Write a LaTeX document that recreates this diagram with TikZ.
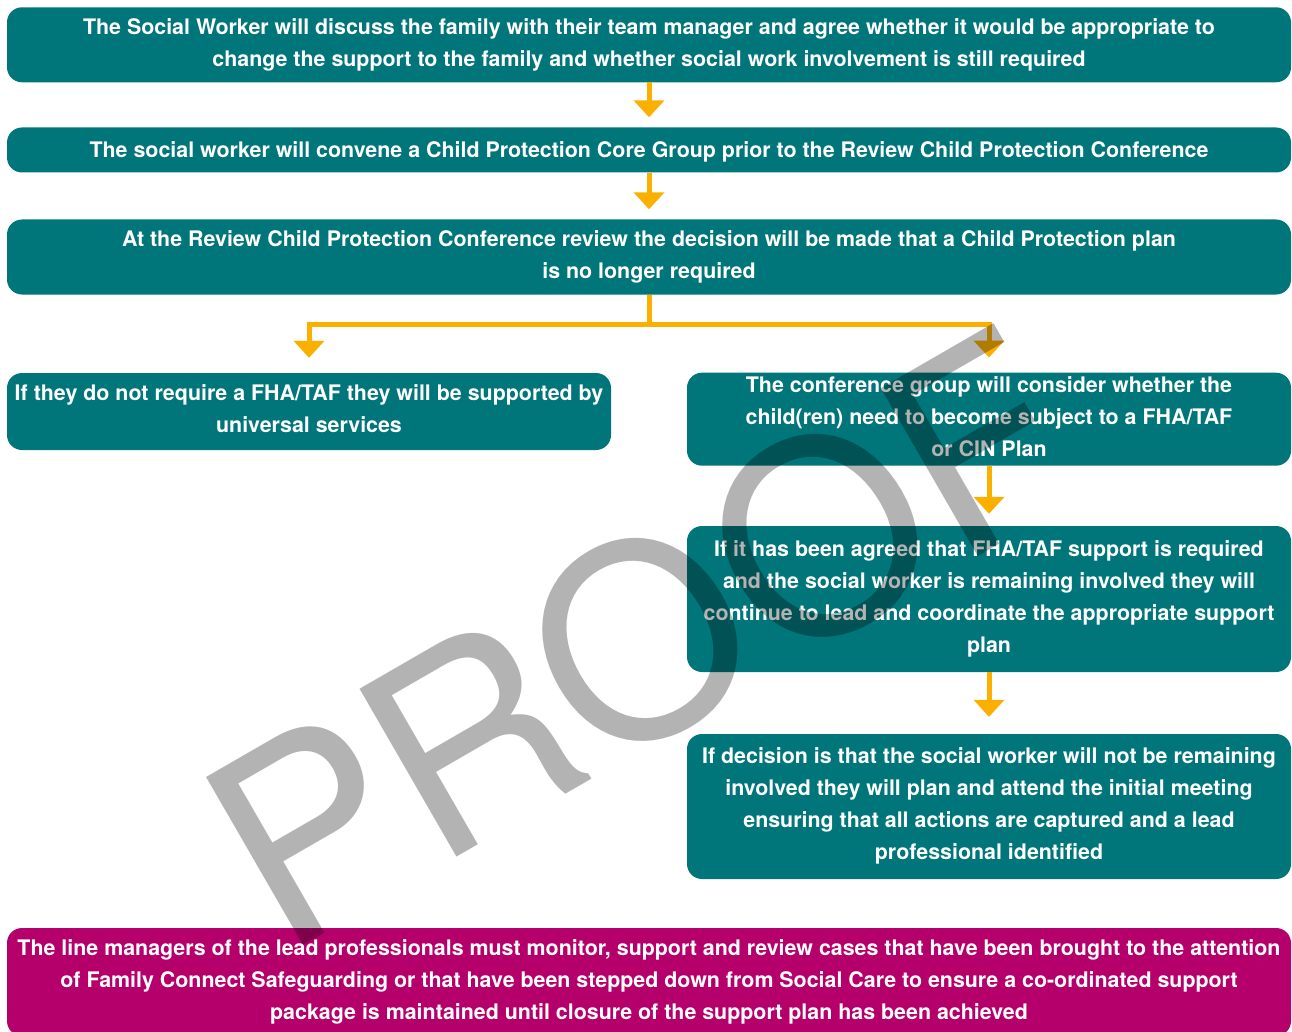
\documentclass[tikz,border=0pt]{standalone}
\usepackage{fontspec}
\setmainfont{TeX Gyre Heros}
\usetikzlibrary{arrows.meta}
\definecolor{teal}{HTML}{00767A}
\definecolor{plum}{HTML}{B5006B}
\definecolor{amber}{HTML}{FBB000}
\definecolor{wmgray}{HTML}{B3B3B3}
\tikzset{
  stage/.style={draw=none, fill=teal, rounded corners=15pt, text=white,
    font=\bfseries\fontsize{21.4}{32}\selectfont, align=center, inner sep=0pt,
    % fixed first-line height and last-line depth keep the baselines evenly placed
    execute at begin node={\rule{0pt}{20.6pt}},
    execute at end node={\rule[-5pt]{0pt}{0pt}}},
  closing/.style={stage, fill=plum},
  flow/.style={draw=amber, line width=5pt},
  flowarrow/.style={flow, -{Triangle[width=30pt,length=17pt]}, shorten >=12pt},
}
\begin{document}
\begin{tikzpicture}[x=1pt, y=-1pt]
\useasboundingbox (0,0) rectangle (1292,1032);

\node[stage, minimum width=1284pt, minimum height=75pt] (b1) at (649,44.8)
  {The Social Worker will discuss the family with their team manager and agree whether it would be appropriate to\\
   change the support to the family and whether social work involvement is still required};
\node[stage, minimum width=1284pt, minimum height=45pt] (b2) at (649,150)
  {The social worker will convene a Child Protection Core Group prior to the Review Child Protection Conference};
\node[stage, minimum width=1284pt, minimum height=75pt] (b3) at (649,257)
  {At the Review Child Protection Conference review the decision will be made that a Child Protection plan\\
   is no longer required};
\node[stage, minimum width=604pt, minimum height=77pt] (b4) at (309,411.5)
  {If they do not require a FHA/TAF they will be supported by\\ universal services};
\node[stage, minimum width=604pt, minimum height=93pt] (b5) at (989,419.2)
  {The conference group will consider whether the\\
   child(ren) need to become subject to a FHA/TAF\\ or CIN Plan};
\node[stage, minimum width=604pt, minimum height=146pt] (b6) at (989,599)
  {If it has been agreed that FHA/TAF support is required\\
   and the social worker is remaining involved they will\\
   continue to lead and coordinate the appropriate support\\ plan};
\node[stage, minimum width=604pt, minimum height=145pt] (b7) at (989,806.5)
  {If decision is that the social worker will not be remaining\\
   involved they will plan and attend the initial meeting\\
   ensuring that all actions are captured and a lead\\ professional identified};
\node[closing, minimum width=1284pt, minimum height=108pt] (b8) at (649,982)
  {The line managers of the lead professionals must monitor, support and review cases that have been brought to the attention\\
   of Family Connect Safeguarding or that have been stepped down from Social Care to ensure a co-ordinated support\\
   package is maintained until closure of the support plan has been achieved};

% connectors
\draw[flowarrow, shorten >=10pt] (b1) -- (b2);
\draw[flowarrow, shorten >=10pt] (b2) -- (b3);
\coordinate (split) at (649,324);
\draw[flow] (b3.south) -- (split);
\draw[flowarrow, shorten >=15pt] (split) -| (b4.north);
\draw[flowarrow, shorten >=15pt] (split) -| (b5.north);
\draw[flowarrow] (b5) -- (b6);
\draw[flowarrow, shorten >=17pt] (b6) -- (b7);

% watermark
\node[rotate=30, anchor=base west, inner sep=0pt, text=wmgray, blend mode=multiply,
  font=\fontsize{266}{266}\selectfont] (wm) at (282,958) {PROOF};
\end{tikzpicture}
\end{document}
